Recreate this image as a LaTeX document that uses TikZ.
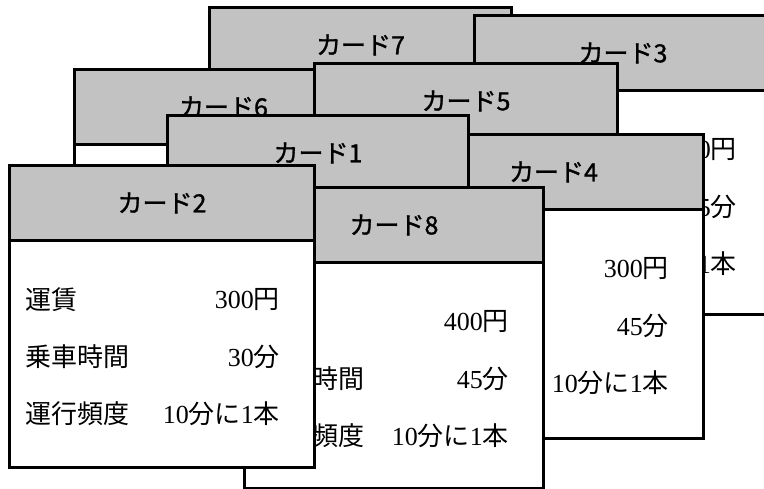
\documentclass[tikz,border=0pt]{standalone}
\usepackage{fontspec}
\setmainfont{Liberation Serif}
\newfontfamily\jpfont{Noto Sans CJK JP}
\newfontfamily\jphead[FakeBold=1.2]{Noto Sans CJK JP}
\tikzset{
  cardbody/.style={draw, line width=3pt, fill=white, anchor=north west,
    minimum height=302pt, inner sep=0pt},
  cardhead/.style={draw, line width=3pt, fill=black!24, anchor=north west,
    minimum height=75pt, inner sep=0pt,
    font=\jphead\fontsize{25}{25}\selectfont},
  lab/.style={anchor=west, inner sep=0pt, font=\jpfont\fontsize{26}{26}\selectfont},
  val/.style={anchor=east, inner sep=0pt, font=\fontsize{26}{26}\selectfont},
}
% #1 name, #2 x, #3 y, #4 width, #5 height, #6 number
\newcommand\mkcard[6]{%
  \node[cardbody, minimum width=#4pt, minimum height=#5pt] (#1) at (#2,#3) {};
  \node[cardhead, minimum width=#4pt] (#1h) at (#1.north west) {カード#6};
}
\newcommand\mkvals[4]{% #1 name, #2 v1, #3 v2, #4 v3
  \node[val] (#1v1) at ([xshift=-36pt,yshift=-136pt]#1.north east) {#2};
  \node[val] (#1v2) at ([xshift=-36pt,yshift=-193pt]#1.north east) {#3};
  \node[val] (#1v3) at ([xshift=-36pt,yshift=-250pt]#1.north east) {#4};
}
\begin{document}
\begin{tikzpicture}[x=1pt,y=-1pt]
  \useasboundingbox (0,0) rectangle (764,489);
  \clip (0,0) rectangle (764,489);
  \mkcard{c7}{208}{6}{302}{302}{7}
  \mkcard{c3}{473}{14}{297}{299}{3}
  \mkvals{c3}{0{\jpfont 円}}{5{\jpfont 分}}{1{\jpfont 本}}
  \mkcard{c6}{73}{68}{298}{302}{6}
  \mkcard{c5}{313}{62}{303}{302}{5}
  \mkcard{c4}{402}{133}{300}{304}{4}
  \mkvals{c4}{300{\jpfont 円}}{45{\jpfont 分}}{10{\jpfont 分に}1{\jpfont 本}}
  \mkcard{c1}{166}{114}{301}{302}{1}
  \mkcard{c8}{243}{186}{299}{301}{8}
  \node[lab] (c8l2) at ([xshift=69pt,yshift=-193pt]c8.north west) {時間};
  \node[lab] (c8l3) at ([xshift=69pt,yshift=-250pt]c8.north west) {頻度};
  \mkvals{c8}{400{\jpfont 円}}{45{\jpfont 分}}{10{\jpfont 分に}1{\jpfont 本}}
  \mkcard{c2}{8}{164}{305}{302}{2}
  \node[lab] (c2l1) at ([xshift=17pt,yshift=-136pt]c2.north west) {運賃};
  \node[lab] (c2l2) at ([xshift=17pt,yshift=-193pt]c2.north west) {乗車時間};
  \node[lab] (c2l3) at ([xshift=17pt,yshift=-250pt]c2.north west) {運行頻度};
  \mkvals{c2}{300{\jpfont 円}}{30{\jpfont 分}}{10{\jpfont 分に}1{\jpfont 本}}
\end{tikzpicture}
\end{document}
